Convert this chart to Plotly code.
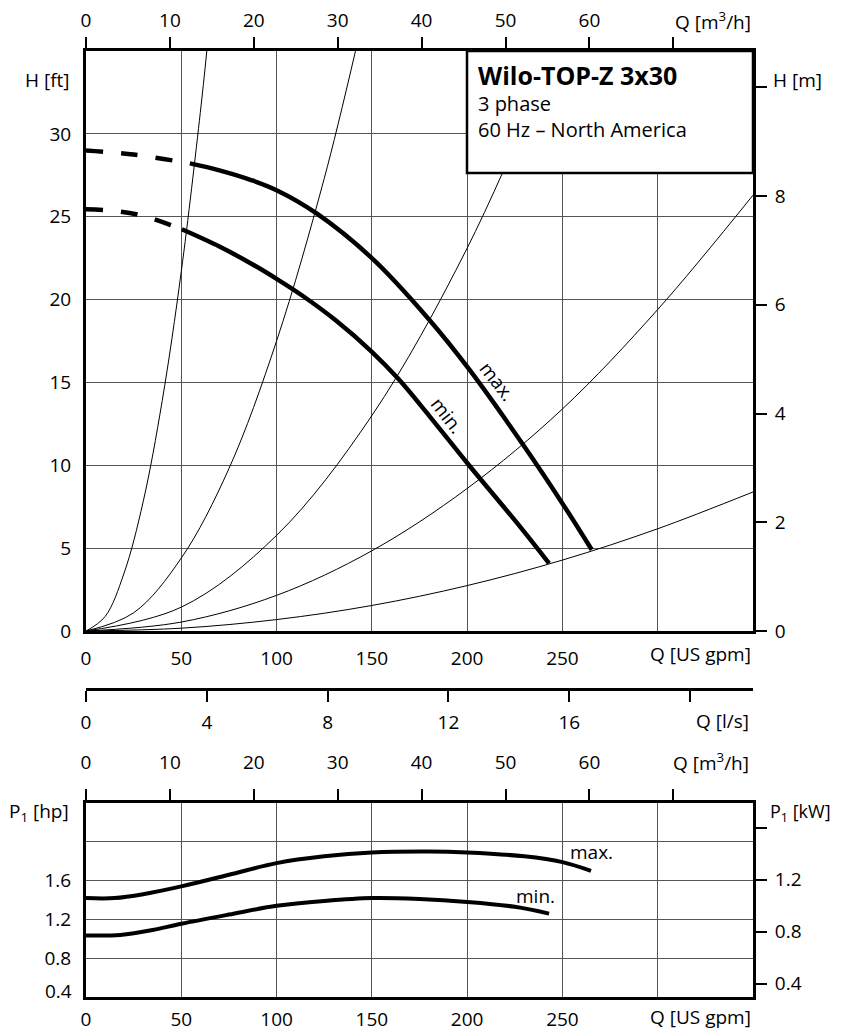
import plotly.graph_objects as go

# ---------------- data ----------------
# pump curves H [ft] vs Q [US gpm]
q_max_dash = [0, 25, 54.5]
h_max_dash = [29.0, 28.75, 28.22]
q_max = [54.5, 70, 87, 100, 121, 150, 180, 201, 229, 250, 265.4]
h_max = [28.22, 27.8, 27.2, 26.6, 25.2, 22.5, 18.8, 15.8, 11.3, 7.7, 4.9]

q_min_dash = [0, 15, 30, 50.3]
h_min_dash = [25.45, 25.35, 25.05, 24.24]
q_min = [50.3, 70, 87, 100, 114, 131, 150, 164, 180, 201, 227, 243]
h_min = [24.24, 23.2, 22.15, 21.25, 20.2, 18.75, 16.85, 15.2, 13.0, 10.0, 6.4, 4.08]

# system curves (thin lines)
sys1_q = [0, 10, 20, 30, 40, 50, 60, 63.4]
sys1_h = [0, 0.87, 3.5, 7.8, 13.9, 21.7, 31.3, 35]
sys2_q = [0, 25, 50, 75, 100, 125, 141.4]
sys2_h = [0, 1.1, 4.4, 9.8, 17.5, 27.3, 35]
sys3_q = [0, 50, 100, 150, 200, 246]
sys3_h = [0, 1.44, 5.77, 13.0, 23.1, 35]
sys4_q = [0, 50, 100, 150, 200, 250, 300, 350]
sys4_h = [0, 0.54, 2.15, 4.84, 8.6, 13.4, 19.4, 26.3]
sys5_q = [0, 50, 100, 150, 200, 250, 300, 350]
sys5_h = [0, 0.17, 0.69, 1.54, 2.74, 4.28, 6.17, 8.39]

# power curves P1 [hp] vs Q [US gpm]
p_max_q = [0, 15, 30, 50, 75, 100, 125, 150, 180, 200, 230, 250, 265]
p_max_hp = [1.42, 1.42, 1.46, 1.54, 1.66, 1.78, 1.85, 1.89, 1.90, 1.89, 1.85, 1.79, 1.70]
p_min_q = [0, 18, 35, 50, 75, 100, 125, 150, 175, 200, 225, 243]
p_min_hp = [1.035, 1.04, 1.09, 1.155, 1.25, 1.34, 1.39, 1.42, 1.41, 1.38, 1.33, 1.26]

# axis ticks (labelled ticks, and unlabelled ticks / grid lines)
gpm_ticks = [0, 50, 100, 150, 200, 250]
gpm_extra = [300]
m3h_ticks = [0, 10, 20, 30, 40, 50, 60]
m3h_extra = [70]
ls_ticks = [0, 4, 8, 12, 16]
ls_extra = [20]
ft_ticks = [0, 5, 10, 15, 20, 25, 30]
m_ticks = [0, 2, 4, 6, 8]
m_extra = [10]
hp_ticks = [0.8, 1.2, 1.6]
hp_extra = [2.0]
kw_ticks = [0.4, 0.8, 1.2]
kw_extra = [1.6]

# unit conversions
GPM_PER_M3H = 4.40287
GPM_PER_LS = 15.8503
M_PER_FT = 0.3048
KW_PER_HP = 0.7457

Q_RANGE = [0, 350]
H_RANGE = [0, 35]
P_RANGE = [0.4, 2.4]

W, H = 841, 1030
OFF = 8  # the page body adds an 8px margin around the figure

def px(x):
    return (x - OFF) / W
def py(y):
    return 1 - (y - OFF) / H

FONT = "Open Sans"
BLACK = "#000000"
GRID = "#555555"

fig = go.Figure()

thin = dict(color=BLACK, width=1)
for q, h in [(sys1_q, sys1_h), (sys2_q, sys2_h), (sys3_q, sys3_h),
             (sys4_q, sys4_h), (sys5_q, sys5_h)]:
    fig.add_trace(go.Scatter(x=q, y=h, mode="lines", line=dict(shape="spline", **thin),
                             xaxis="x", yaxis="y", showlegend=False, hoverinfo="skip"))

thick = 4.5
fig.add_trace(go.Scatter(x=q_max_dash, y=h_max_dash, mode="lines",
                         line=dict(color=BLACK, width=thick, dash="17px,18px", shape="spline"),
                         xaxis="x", yaxis="y", showlegend=False))
fig.add_trace(go.Scatter(x=q_max, y=h_max, mode="lines",
                         line=dict(color=BLACK, width=thick, shape="spline"),
                         xaxis="x", yaxis="y", showlegend=False))
fig.add_trace(go.Scatter(x=q_min_dash, y=h_min_dash, mode="lines",
                         line=dict(color=BLACK, width=thick, dash="17px,18px", shape="spline"),
                         xaxis="x", yaxis="y", showlegend=False))
fig.add_trace(go.Scatter(x=q_min, y=h_min, mode="lines",
                         line=dict(color=BLACK, width=thick, shape="spline"),
                         xaxis="x", yaxis="y", showlegend=False))

fig.add_trace(go.Scatter(x=p_max_q, y=p_max_hp, mode="lines",
                         line=dict(color=BLACK, width=4, shape="spline"),
                         xaxis="x4", yaxis="y3", showlegend=False))
fig.add_trace(go.Scatter(x=p_min_q, y=p_min_hp, mode="lines",
                         line=dict(color=BLACK, width=4, shape="spline"),
                         xaxis="x4", yaxis="y3", showlegend=False))

# empty traces so that the secondary axes get drawn
for xa, ya in [("x2", "y"), ("x", "y2"), ("x3", "y"), ("x5", "y3"), ("x4", "y4")]:
    fig.add_trace(go.Scatter(x=[], y=[], xaxis=xa, yaxis=ya, showlegend=False, hoverinfo="skip"))

tickfont = dict(family=FONT, size=19, color=BLACK)
dom_x = [px(86), px(753)]
common = dict(showline=True, linecolor=BLACK, linewidth=3, automargin=False,
              zeroline=False, tickfont=tickfont, tickmode="array")
outside = dict(ticks="outside", ticklen=11, tickwidth=2, tickcolor=BLACK, showgrid=False)

def minor_ticks(vals):
    return dict(tickmode="array", tickvals=vals, ticks="outside", ticklen=11,
                tickwidth=2, tickcolor=BLACK, showgrid=False)

def minor_grid(vals):
    return dict(tickmode="array", tickvals=vals, ticks="", showgrid=True,
                gridcolor=GRID, gridwidth=1)

fig.update_layout(
    template="none",
    width=W, height=H, margin=dict(l=0, r=0, t=0, b=0, autoexpand=False),
    paper_bgcolor="white", plot_bgcolor="white", showlegend=False,
    font=dict(family=FONT, size=19, color=BLACK),
    xaxis=dict(domain=dom_x, range=Q_RANGE, anchor="y",
               tickvals=gpm_ticks, ticks="", showgrid=True, minor=minor_grid(gpm_extra),
               gridcolor=GRID, gridwidth=1, mirror=True, ticklabelstandoff=8, **common),
    yaxis=dict(domain=[py(631), py(51)], range=H_RANGE, anchor="x",
               tickvals=ft_ticks, ticks="", showgrid=True, gridcolor=GRID, gridwidth=1,
               mirror=True, ticklabelstandoff=8, **common),
    xaxis2=dict(overlaying="x", side="top", anchor="y",
                range=[Q_RANGE[0] / GPM_PER_M3H, Q_RANGE[1] / GPM_PER_M3H],
                tickvals=m3h_ticks, ticklabelstandoff=2, minor=minor_ticks(m3h_extra),
                **outside, **common),
    yaxis2=dict(overlaying="y", side="right", anchor="x",
                range=[H_RANGE[0] * M_PER_FT, H_RANGE[1] * M_PER_FT],
                tickvals=m_ticks, ticklabelstandoff=4, minor=minor_ticks(m_extra),
                **outside, **common),
    xaxis3=dict(overlaying="x", anchor="free", position=py(689), side="bottom",
                range=[Q_RANGE[0] / GPM_PER_LS, Q_RANGE[1] / GPM_PER_LS],
                tickvals=ls_ticks, ticklabelstandoff=4, minor=minor_ticks(ls_extra),
                **outside, **common),
    xaxis4=dict(domain=dom_x, range=Q_RANGE, anchor="y3",
                tickvals=gpm_ticks, ticks="", showgrid=True, minor=minor_grid(gpm_extra),
                gridcolor=GRID, gridwidth=1, mirror=True, ticklabelstandoff=3, **common),
    yaxis3=dict(domain=[py(997), py(803)], range=P_RANGE, anchor="x4",
                tickvals=hp_ticks, ticks="", showgrid=True, minor=minor_grid(hp_extra),
                gridcolor=GRID, gridwidth=1, mirror=True, ticklabelstandoff=8, **common),
    xaxis5=dict(overlaying="x4", side="top", anchor="y3",
                range=[Q_RANGE[0] / GPM_PER_M3H, Q_RANGE[1] / GPM_PER_M3H],
                tickvals=m3h_ticks, ticklabelstandoff=12, minor=minor_ticks(m3h_extra),
                **outside, **common),
    yaxis4=dict(overlaying="y3", side="right", anchor="x4",
                range=[P_RANGE[0] * KW_PER_HP, P_RANGE[1] * KW_PER_HP],
                tickvals=kw_ticks, ticklabelstandoff=4, minor=minor_ticks(kw_extra),
                **outside, **common),
)

# info box
fig.add_shape(type="rect", xref="paper", yref="paper",
              x0=px(467), x1=px(753), y0=py(173), y1=py(51),
              fillcolor="white", line=dict(color=BLACK, width=2.5), layer="above")

def ann(text, x, y, xanchor="center", size=19, angle=0, yanchor="middle", align="center"):
    fig.add_annotation(text=text, xref="paper", yref="paper", x=px(x), y=py(y),
                       xanchor=xanchor, yanchor=yanchor, showarrow=False, textangle=angle,
                       align=align, font=dict(family=FONT, size=size, color=BLACK))

ann('<b><span style="font-size:25px">Wilo-TOP-Z 3x30</span></b><br>'
    '3 phase<br>60 Hz \u2013 North America',
    476, 56, xanchor="left", yanchor="top", size=20, align="left")

ann("Q [m<sup>3</sup>/h]", 753, 21, xanchor="right")
ann("H [ft]", 47, 80)
ann("H [m]", 771, 80, xanchor="left")
ann("Q [US gpm]", 753, 654, xanchor="right")
ann("Q [l/s]", 751, 721, xanchor="right")
ann("Q [m<sup>3</sup>/h]", 751, 762, xanchor="right")
ann("P<sub>1</sub> [hp]", 39, 812)
ann("0.4", 74, 991, xanchor="right")
ann("P<sub>1</sub> [kW]", 768, 812, xanchor="left", size=18)
ann("Q [US gpm]", 753, 1017, xanchor="right")

ann("max.", 497, 381, angle=52)
ann("min.", 447, 415, angle=52)
ann("max.", 591, 852)
ann("min.", 535, 896)

fig.write_html("out.html")
